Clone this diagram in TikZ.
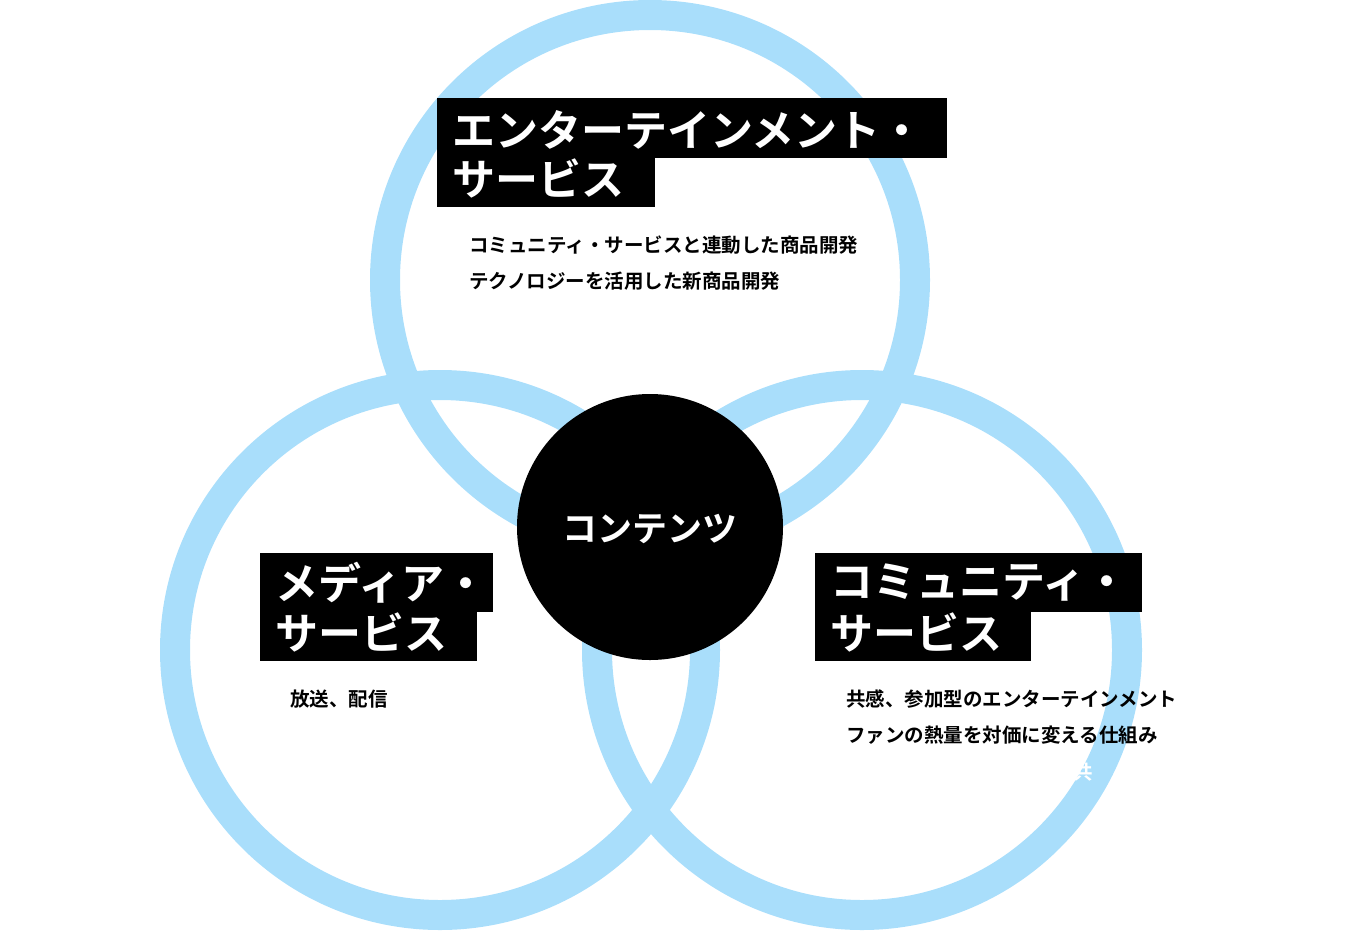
\documentclass[tikz,border=0pt]{standalone}
\usepackage{fontspec}
\setmainfont{Noto Sans CJK JP}[BoldFont={* Bold}]
\newfontfamily\jpb{Noto Sans CJK JP Bold}
\definecolor{ring}{HTML}{A9DEFB}
\begin{document}
\begin{tikzpicture}[x=1pt,y=-1pt,
  ringc/.style={draw=ring,line width=30pt},
  titlebox/.style={fill=black,text=white,font=\jpb\fontsize{43}{43}\selectfont,anchor=north west,inner xsep=0pt,inner ysep=0pt,text depth=0pt},
  bodytxt/.style={font=\jpb\fontsize{19.5}{19.5}\selectfont,anchor=west,inner sep=0pt}]
\useasboundingbox (0,0) rectangle (1350,930);
\draw[ringc] (650,280) circle (265);
\draw[ringc] (440,650) circle (265);
\draw[ringc] (862,650) circle (265);
\node[fill=black,circle,minimum size=266pt,inner sep=0pt] (c) at (650,527) {};
\node[text=white,font=\jpb\fontsize{35}{35}\selectfont] (ct) at (650,529) {コンテンツ};
% top
\fill[black] (437,98) rectangle (947,158);
\fill[black] (437,158) rectangle (655,207);
\node[text=white,font=\jpb\fontsize{43}{43}\selectfont,anchor=west,inner sep=0pt] (t1) at (452,130) {エンターテインメント・};
\node[text=white,font=\jpb\fontsize{43}{43}\selectfont,anchor=west,inner sep=0pt] (t2) at (452,178) {サービス};
\node[bodytxt] (b1) at (469,245) {コミュニティ・サービスと連動した商品開発};
\node[bodytxt] (b2) at (469,281) {テクノロジーを活用した新商品開発};
% left
\fill[black] (260,553) rectangle (493,612);
\fill[black] (260,612) rectangle (477,661);
\node[text=white,font=\jpb\fontsize{43}{43}\selectfont,anchor=west,inner sep=0pt] (l1) at (275,583) {メディア・};
\node[text=white,font=\jpb\fontsize{43}{43}\selectfont,anchor=west,inner sep=0pt] (l2) at (275,632) {サービス};
\node[bodytxt] (lb) at (290,699) {放送、配信};
% right
\fill[black] (815,553) rectangle (1142,612);
\fill[black] (815,612) rectangle (1031,661);
\node[text=white,font=\jpb\fontsize{43}{43}\selectfont,anchor=west,inner sep=0pt] (r1) at (830,583) {コミュニティ・};
\node[text=white,font=\jpb\fontsize{43}{43}\selectfont,anchor=west,inner sep=0pt] (r2) at (830,632) {サービス};
\node[bodytxt] (rb1) at (846,699) {共感、参加型のエンターテインメント};
\node[bodytxt] (rb2) at (846,735) {ファンの熱量を対価に変える仕組み};
\node[bodytxt,text=white] (rb3) at (1073,772) {共};
\end{tikzpicture}
\end{document}
